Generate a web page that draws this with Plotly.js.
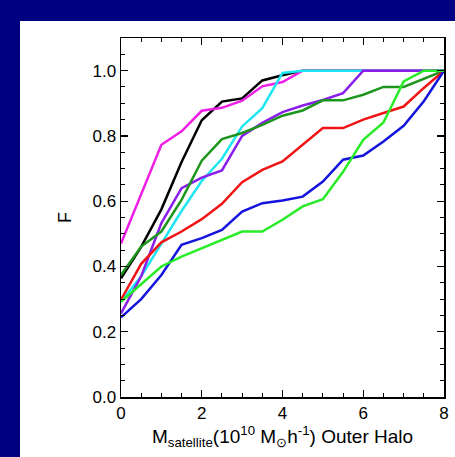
<!DOCTYPE html>
<html>
<head>
<meta charset="utf-8">
<script src="https://cdn.plot.ly/plotly-3.0.1.min.js"></script>
<style>
html,body{margin:0;padding:0;background:#000080;width:455px;height:457px;overflow:hidden;}
#chart{position:absolute;left:20px;top:21px;width:435px;height:436px;background:#ffffff;}
</style>
</head>
<body>
<div id="chart"></div>
<script>
const xVals = [0,0.5,1,1.5,2,2.5,3,3.5,4,4.5,5,5.5,6,6.5,7,7.5,8];

const fBlack   = [0.364,0.46,0.575,0.72,0.848,0.905,0.915,0.97,0.986,1.0,1.0,1.0,1.0,1.0,1.0,1.0,1.0];
const fMagenta = [0.47,0.62,0.773,0.814,0.877,0.886,0.908,0.952,0.965,1.0,1.0,1.0,1.0,1.0,1.0,1.0,1.0];
const fCyan    = [0.292,0.37,0.47,0.57,0.662,0.73,0.829,0.885,0.993,1.0,1.0,1.0,1.0,1.0,1.0,1.0,1.0];
const fPurple  = [0.256,0.37,0.533,0.64,0.672,0.694,0.80,0.84,0.873,0.893,0.91,0.931,1.0,1.0,1.0,1.0,1.0];
const fDkGreen = [0.374,0.461,0.507,0.604,0.724,0.79,0.809,0.834,0.862,0.878,0.909,0.909,0.926,0.95,0.95,0.974,1.0];
const fRed     = [0.298,0.408,0.474,0.507,0.545,0.592,0.658,0.696,0.722,0.773,0.824,0.824,0.85,0.87,0.89,0.947,1.0];
const fBlue    = [0.244,0.30,0.374,0.466,0.487,0.512,0.568,0.594,0.602,0.614,0.66,0.727,0.74,0.783,0.831,0.906,1.0];
const fLime    = [0.292,0.345,0.40,0.43,0.456,0.482,0.507,0.507,0.543,0.584,0.606,0.69,0.788,0.841,0.967,1.0,1.0];

const seriesList = [
  {y: fBlack,   color: '#000000'},
  {y: fMagenta, color: '#ee1ee6'},
  {y: fCyan,    color: '#1ee6f0'},
  {y: fPurple,  color: '#8a1eea'},
  {y: fDkGreen, color: '#1e961e'},
  {y: fRed,     color: '#f01414'},
  {y: fBlue,    color: '#1414dc'},
  {y: fLime,    color: '#28ec28'}
];

const xTickVals = [0,2,4,6,8];
const xTickText = ['0','2','4','6','8'];
const yTickVals = [0,0.2,0.4,0.6,0.8,1.0];
const yTickText = ['0.0','0.2','0.4','0.6','0.8','1.0'];

const traces = seriesList.map(s => ({
  x: xVals, y: s.y, type: 'scatter', mode: 'lines',
  line: {color: s.color, width: 2.5}, hoverinfo: 'skip'
}));

const fontFam = 'Liberation Sans, Arial, sans-serif';

const layout = {
  width: 435, height: 436,
  margin: {l: 101, r: 11, t: 17, b: 60},
  paper_bgcolor: '#ffffff', plot_bgcolor: '#ffffff',
  showlegend: false,
  font: {family: fontFam, size: 16, color: '#000000'},
  xaxis: {
    range: [0, 8], showgrid: false, zeroline: false,
    showline: true, linecolor: '#000000', linewidth: 1.5, mirror: 'allticks',
    ticks: 'inside', ticklen: 7, tickwidth: 1.2, tickcolor: '#000000',
    tickmode: 'array', tickvals: xTickVals, ticktext: xTickText,
    minor: {dtick: 0.5, ticks: 'inside', ticklen: 4, tickwidth: 1, tickcolor: '#000000', showgrid: false},
    tickfont: {family: fontFam, size: 17},
    title: {text: 'M<sub>satellite</sub>(10<sup>10</sup> M<sub>⊙</sub>h<sup>-1</sup>) Outer Halo',
            font: {family: fontFam, size: 19}, standoff: 2}
  },
  yaxis: {
    range: [0, 1.1], showgrid: false, zeroline: false,
    showline: true, linecolor: '#000000', linewidth: 1.5, mirror: 'allticks',
    ticks: 'inside', ticklen: 7, tickwidth: 1.2, tickcolor: '#000000',
    tickmode: 'array', tickvals: yTickVals, ticktext: yTickText,
    minor: {dtick: 0.05, ticks: 'inside', ticklen: 4, tickwidth: 1, tickcolor: '#000000', showgrid: false},
    tickfont: {family: fontFam, size: 17},
    title: {text: 'F', font: {family: fontFam, size: 18}, standoff: 16}
  }
};

Plotly.newPlot('chart', traces, layout, {staticPlot: true, displayModeBar: false});
</script>
</body>
</html>
